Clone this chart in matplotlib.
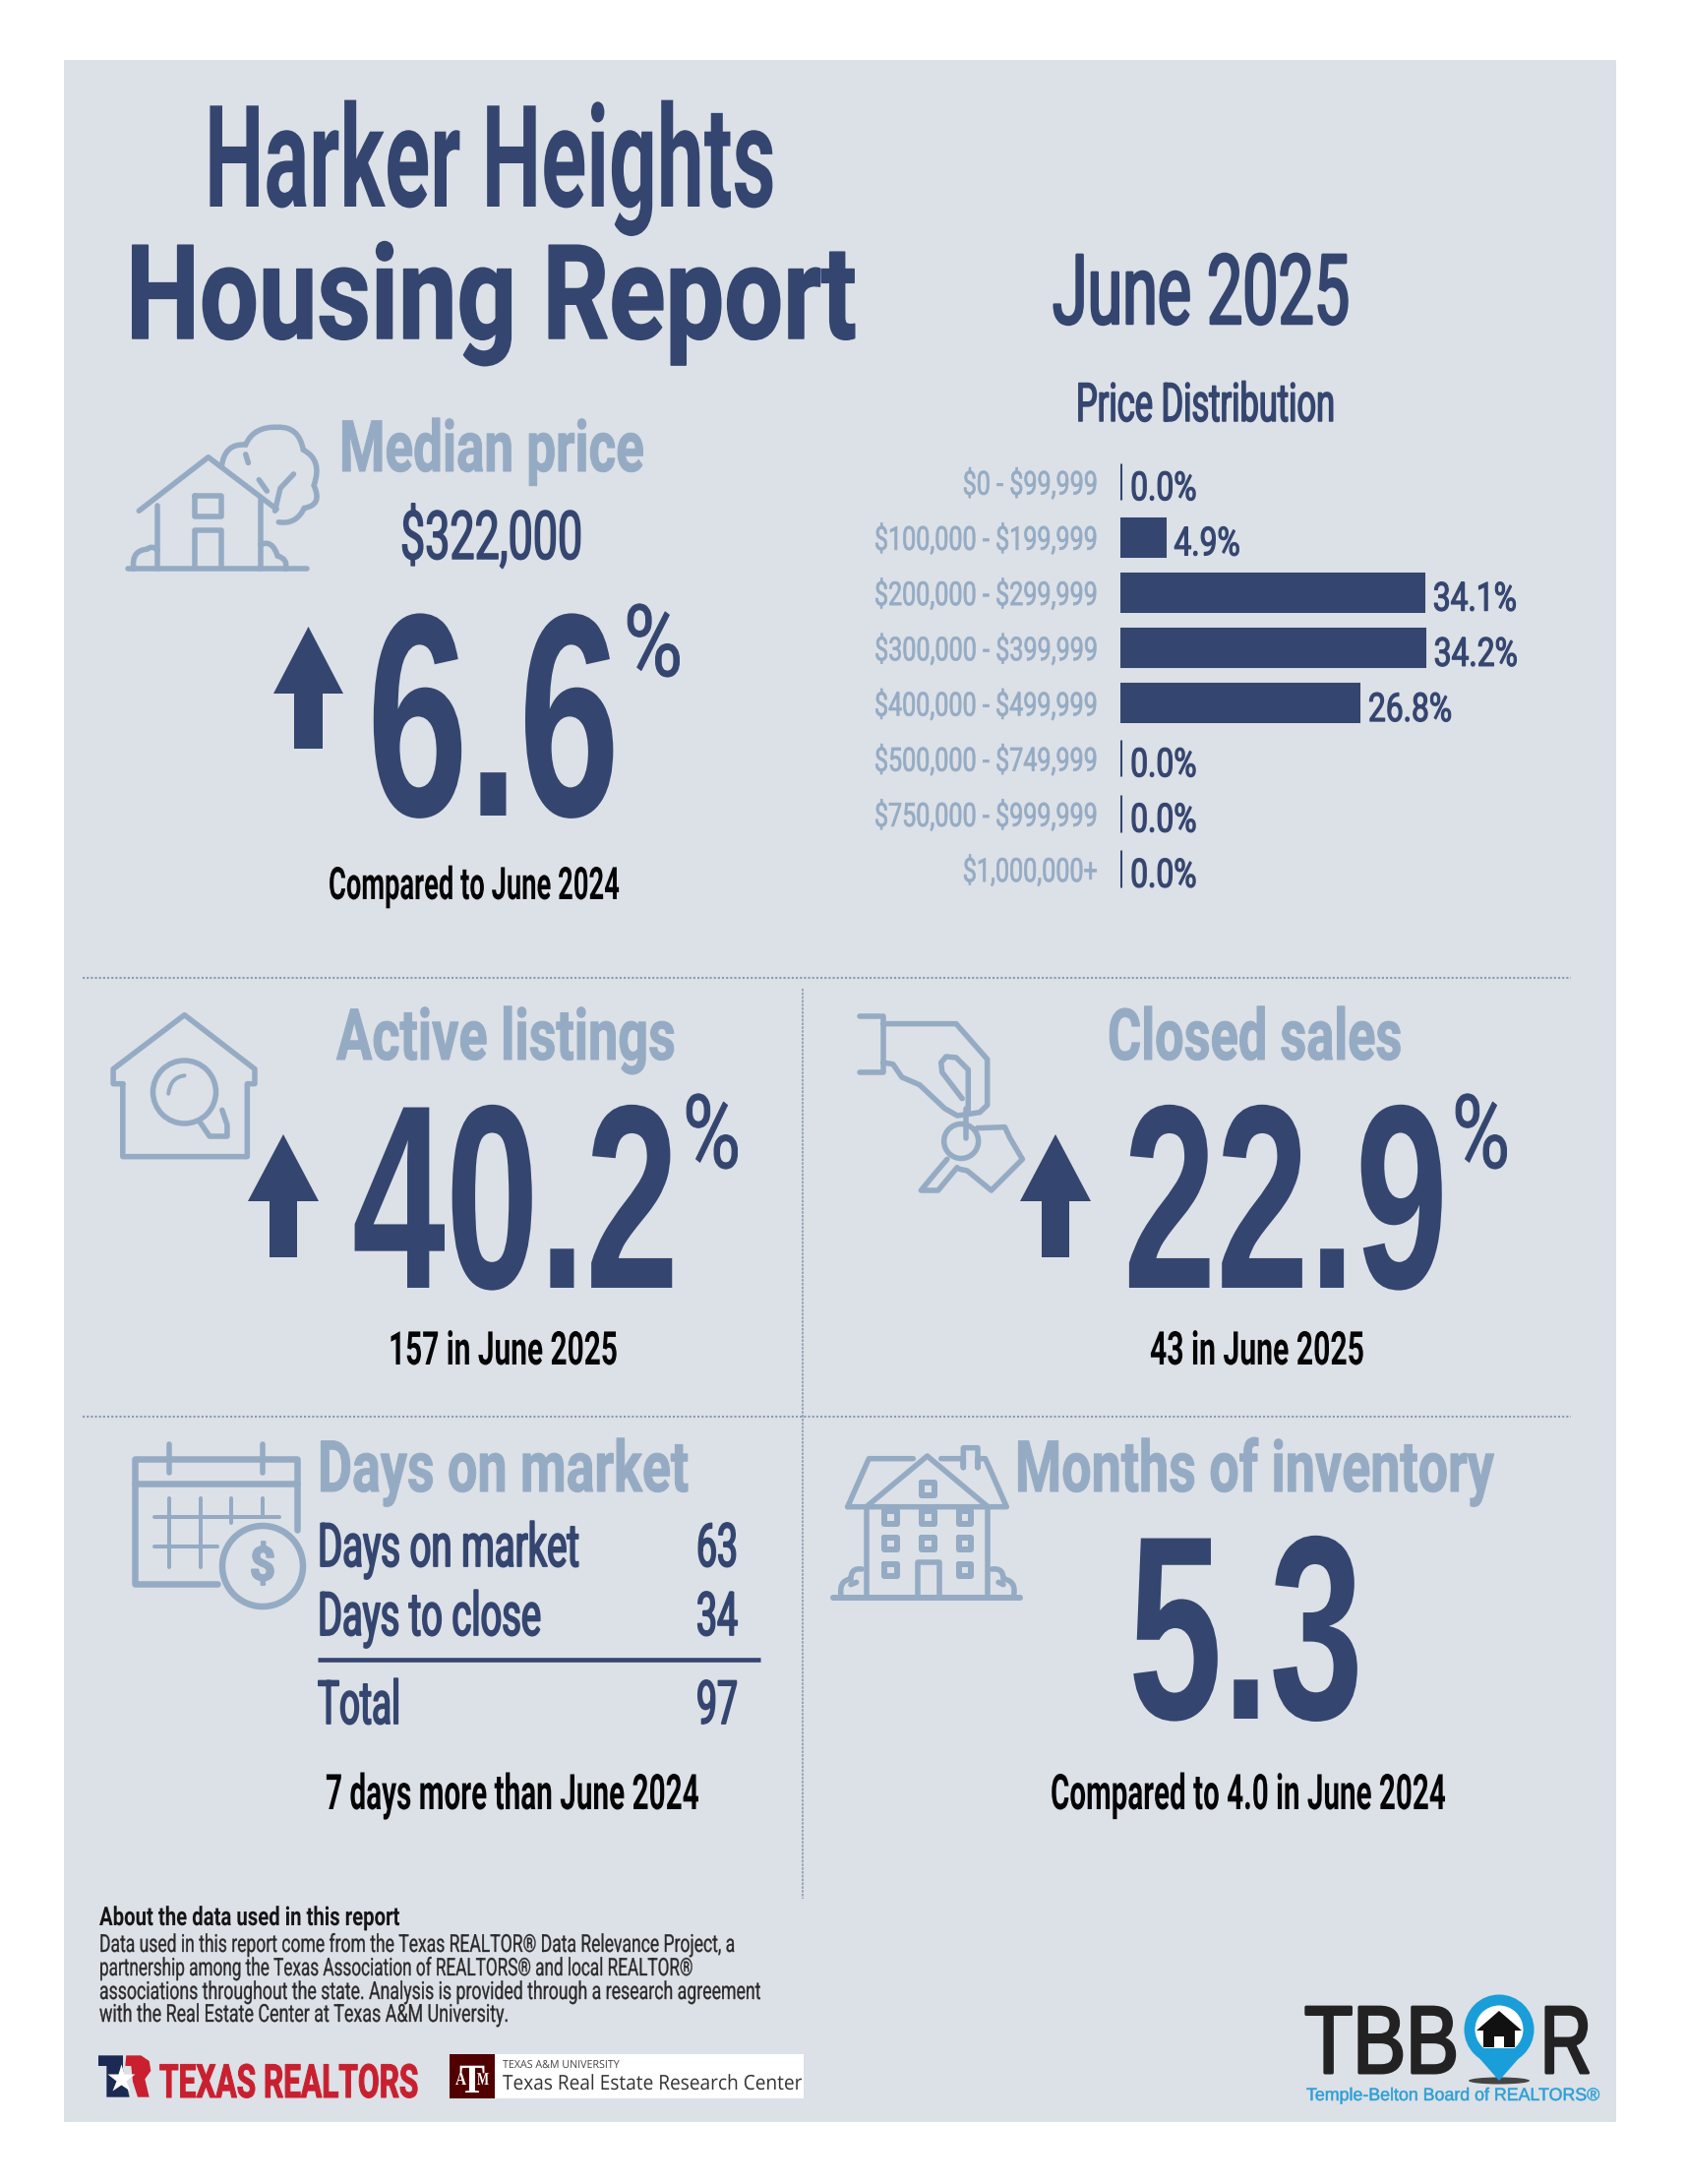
from matplotlib import pyplot as plt
from matplotlib.patches import Rectangle, Ellipse, Polygon, PathPatch
from matplotlib.path import Path
from matplotlib.patheffects import AbstractPathEffect
from matplotlib.transforms import Affine2D

# data
price_bins = ['$0 - $99,999', '$100,000 - $199,999', '$200,000 - $299,999', '$300,000 - $399,999',
              '$400,000 - $499,999', '$500,000 - $749,999', '$750,000 - $999,999', '$1,000,000+']
price_shares = [0.0, 4.9, 34.1, 34.2, 26.8, 0.0, 0.0, 0.0]
median_price = '$322,000'
median_change = 6.6
active_change = 40.2
active_count = 157
sales_change = 22.9
sales_count = 43
dom_rows = ['Days on market', 'Days to close', 'Total']
dom_days = [63, 34, 97]
months_inventory = 5.3
months_prior = 4.0
about_lines = ['Data used in this report come from the Texas REALTOR® Data Relevance Project, a',
               'partnership among the Texas Association of REALTORS® and local REALTOR®',
               'associations throughout the state. Analysis is provided through a research agreement',
               'with the Real Estate Center at Texas A&M University.']

NAVY = '#34466f'
LIGHT = '#94abc3'
PANEL = '#dce0e7'
DOTS = '#8a9bb0'
FONT = 'Roboto'
DIGITS = 'Liberation Sans'

plt.rcParams['text.parse_math'] = False  # the price labels hold dollar signs

fig = plt.figure(figsize=(17.15, 22.2), dpi=100, facecolor='white')
ax = fig.add_axes([0, 0, 1, 1])
ax.set_xlim(0, 1715)
ax.set_ylim(2220, 0)
ax.axis('off')
renderer = fig.canvas.get_renderer()


# squeezes drawn glyphs sideways, there is no condensed font to use here
class Squeeze(AbstractPathEffect):
    def __init__(self, x0, sx, fat=0, dy=0):
        super().__init__()
        self.x0 = x0
        self.sx = sx
        self.fat = fat
        self.dy = dy

    def draw_path(self, renderer, gc, tpath, affine, rgbFace=None):
        squeezed = affine + Affine2D().translate(-self.x0, 0).scale(self.sx, 1).translate(self.x0, -self.dy)
        gc0 = renderer.new_gc()
        gc0.copy_properties(gc)
        if self.fat:
            gc0.set_linewidth(self.fat * 0.72)
            gc0.set_foreground(rgbFace)
        renderer.draw_path(gc0, tpath, squeezed, rgbFace)
        gc0.restore()


def squeeze(t, sx=None, width=None, fat=0, dy=0):
    ext = t.get_window_extent(renderer)
    if sx is None:
        sx = width / ext.width
    ha = t.get_ha()
    x0 = ext.x0 if ha == 'left' else ext.x1 if ha == 'right' else (ext.x0 + ext.x1) / 2
    t.set_path_effects([Squeeze(x0, sx, fat, dy)])
    return sx


# x0, x1 are the ink edges in pixels, y the baseline, cap the capital height in pixels
def label(x0, x1, y, s, cap, color=NAVY, weight='bold', family=FONT, fat=0):
    t = ax.text(x0, y, s, fontsize=cap, color=color, fontweight=weight, family=family,
                ha='left', va='baseline', zorder=5)
    squeeze(t, width=x1 - x0, fat=fat)
    return t


def stroke(pts, lw=5.5, color=LIGHT, z=3):
    xs, ys = zip(*pts)
    ax.plot(xs, ys, color=color, lw=lw * 0.72, solid_capstyle='round', solid_joinstyle='round', zorder=z)


def curve(pts, lw=5.5, color=LIGHT):
    # first point, then control/end pairs
    codes = [Path.MOVETO] + [Path.CURVE3] * (len(pts) - 1)
    ax.add_patch(PathPatch(Path(pts, codes), fc='none', ec=color, lw=lw * 0.72, capstyle='round', zorder=3))


def ring(x, y, r, lw=5.5, color=LIGHT, fc='none'):
    ax.add_patch(Ellipse((x, y), 2 * r, 2 * r, fc=fc, ec=color, lw=lw * 0.72, zorder=3))


def up_arrow(x0, x1, shaft0, shaft1, tip, head, bottom):
    ax.add_patch(Polygon([((x0 + x1) / 2, tip), (x1, head), (shaft1, head), (shaft1, bottom),
                          (shaft0, bottom), (shaft0, head), (x0, head)], fc=NAVY, ec='none', zorder=4))


def zoomed(x0, y0, pts, fx=1.96, fy=3.0):
    return [(x0 + x / fx, y0 + y / fy) for x, y in pts]


def draw_panel():
    ax.add_patch(Rectangle((65, 61), 1578, 2096, fc=PANEL, ec='none', zorder=0))
    for y in (994, 1440):
        ax.plot([84, 1597], [y, y], color=DOTS, lw=1.5, ls=(0, (1, 1)), zorder=1)
    ax.plot([816, 816], [1005, 1930], color=DOTS, lw=1.2, ls=(0, (1.5, 0.8)), zorder=1)


def draw_header():
    label(208, 789, 210, 'Harker Heights', 104)
    label(128, 871, 344, 'Housing Report', 96, fat=1.5)
    label(1070, 1372, 329, 'June 2025', 71, fat=2.5, weight='normal')
    label(1094, 1357, 428, 'Price Distribution', 39, fat=1.5, weight='normal')


def draw_median():
    label(345, 655, 479, 'Median price', 52, color=LIGHT, fat=1)
    label(407, 592, 568, median_price, 49, weight='normal', fat=1.5)
    label(373, 630, 829, f'{median_change:.1f}', 212, family=DIGITS)
    label(634, 694, 687, '%', 73, weight='normal', fat=1)
    up_arrow(278, 349, 299, 328, 637, 705, 761)
    label(334, 630, 914, 'Compared to June 2024', 33, color='#050505')
    # house with tree
    z = lambda pts: zoomed(60, 60, pts, 1.845, 1.742)
    stroke(z([(130, 903), (465, 903)]))
    stroke(z([(185, 790), (185, 903)]))
    stroke(z([(378, 780), (378, 903)]))
    stroke(z([(150, 800), (280, 705), (408, 797)]))
    stroke(z([(255, 773), (305, 773), (305, 810), (255, 810), (255, 773)]))
    stroke(z([(255, 900), (255, 835), (305, 835), (305, 900)]))
    curve(z([(305, 722), (310, 680), (350, 683), (365, 650), (410, 652), (450, 650), (458, 692),
             (495, 710), (478, 755), (495, 790), (460, 795), (445, 825), (412, 820)]))
    stroke(z([(405, 800), (415, 760), (440, 735)]))
    stroke(z([(375, 745), (390, 765)]))
    stroke(z([(350, 700), (355, 715)]))
    curve(z([(140, 903), (135, 870), (165, 868), (175, 860), (185, 870)]))
    curve(z([(378, 860), (400, 850), (410, 880), (430, 885), (425, 903)]))


def draw_prices():
    # real axes for the bars: 9.02 px per percent, rows 56.2 px apart
    left, top, wide, high = 1139.5, 461.4, 500, 449.6
    bx = fig.add_axes([left / 1715, 1 - (top + high) / 2220, wide / 1715, high / 2220])
    bx.patch.set_alpha(0)
    rows = list(range(len(price_bins)))
    bx.barh(rows, price_shares, height=0.67, color=NAVY, edgecolor=NAVY, linewidth=2.2)
    bx.set_xlim(0, wide / 9.02)
    bx.set_ylim(len(rows) - 0.5, -0.5)
    for s in bx.spines.values():
        s.set_visible(False)
    bx.set_xticks([])
    bx.set_yticks(rows, price_bins, fontsize=24, color=LIGHT, family=FONT, va='center')
    bx.tick_params(axis='y', length=0, pad=17)
    fig.canvas.draw()
    sx = 227 / bx.get_yticklabels()[1].get_window_extent(renderer).width
    for t in bx.get_yticklabels():
        squeeze(t, sx=sx, fat=0.7, dy=4)
    vals = []
    for i, v in enumerate(price_shares):
        vals.append(bx.annotate(f'{v:.1f}%', (v, i), xytext=(7, -13.5), textcoords='offset points',
                                fontsize=29, color=NAVY, family=FONT, ha='left', va='baseline'))
    sx = 85 / vals[2].get_window_extent(renderer).width
    for t in vals:
        squeeze(t, sx=sx, fat=1.2)


def draw_active():
    label(342, 687, 1077, 'Active listings', 52, color=LIGHT, fat=1)
    label(358, 690, 1309, f'{active_change:.1f}', 192, family=DIGITS)
    label(694, 753, 1187, '%', 75, weight='normal', fat=1)
    up_arrow(252, 324, 274, 302, 1153, 1221, 1278)
    label(395, 628, 1387, f'{active_count} in June 2025', 34, color='#050505')
    ring(187.5, 1110, 32)
    stroke(zoomed(60, 980, [(127, 365), (108, 365), (108, 320), (250, 155), (390, 320), (390, 365),
                            (375, 365), (375, 587), (127, 587), (127, 365)]))
    stroke(zoomed(60, 980, [(280, 480), (300, 525), (335, 525), (335, 490), (325, 445)]))
    curve(zoomed(60, 980, [(218, 395), (222, 345), (250, 340)]), lw=4)


def draw_sales():
    label(1126, 1425, 1077, 'Closed sales', 52, color=LIGHT, fat=1)
    label(1142, 1472, 1309, f'{sales_change:.1f}', 192, family=DIGITS)
    label(1476, 1535, 1187, '%', 75, weight='normal', fat=1)
    up_arrow(1037, 1109, 1059, 1087, 1153, 1221, 1278)
    label(1169, 1387, 1387, f'{sales_count} in June 2025', 34, color='#050505')
    z = lambda pts: zoomed(820, 980, pts)
    stroke(z([(105, 160), (152, 160), (152, 330), (105, 330)]))
    stroke(z([(152, 182), (298, 182), (360, 290), (360, 430), (345, 452), (320, 458)]))
    stroke(z([(152, 300), (172, 305), (190, 345), (225, 368), (275, 440), (300, 462), (320, 458)]))
    stroke(z([(322, 450), (322, 322), (298, 285), (278, 282), (268, 300), (270, 330), (310, 410)]))
    stroke(z([(318, 440), (318, 530)]))
    ring(820 + 308 / 1.96, 980 + 540 / 3, 17.5)
    stroke(z([(280, 595), (255, 640), (228, 690), (262, 690), (300, 620)]))
    stroke(z([(340, 500), (395, 497), (405, 530), (430, 595), (368, 690), (320, 630), (305, 625)]))


def draw_days():
    label(323, 700, 1516, 'Days on market', 52, color=LIGHT, fat=1)
    for name, days, y, x1 in zip(dom_rows, dom_days, (1592, 1662, 1752), (589, 550, 407)):
        label(323, x1, y, name, 44, weight='normal', fat=1.8)
        label(708, 750, y, str(days), 44, weight='normal', fat=1.8)
    ax.plot([323, 773], [1687, 1687], color=NAVY, lw=3.3, solid_capstyle='butt', zorder=4)
    label(331, 711, 1839, f'{dom_days[2] - 90} days more than June 2024', 36, color='#050505')
    z = lambda pts: zoomed(60, 1440, pts)
    stroke(z([(315, 510), (150, 510), (150, 130), (475, 130), (475, 345)]), lw=6.5)
    stroke(z([(150, 205), (475, 205)]), lw=6.5)
    stroke(z([(220, 85), (220, 170)]))
    stroke(z([(405, 85), (405, 170)]))
    stroke(z([(190, 305), (440, 305)]), lw=4)
    stroke(z([(190, 395), (315, 395)]), lw=4)
    for x, y1 in zip((220, 283, 343, 405), (460, 460, 325, 305)):
        stroke(z([(x, 250), (x, y1)]), lw=4)
    ring(267, 1592, 41, lw=6.5)
    label(254, 280, 1606, '$', 34, color=LIGHT, fat=2)


def draw_months():
    label(1032, 1519, 1516, 'Months of inventory', 52, color=LIGHT, fat=1)
    label(1147, 1386, 1747, f'{months_inventory:.1f}', 192, family=DIGITS)
    label(1068, 1470, 1839, f'Compared to {months_prior:.1f} in June 2024', 36, color='#050505')
    z = lambda pts: zoomed(840, 1460, pts, 3, 3)
    stroke(z([(20, 493), (590, 493)]), lw=6)
    stroke(z([(122, 222), (122, 493)]))
    stroke(z([(493, 222), (493, 493)]))
    stroke(z([(65, 215), (550, 215), (485, 68), (462, 68), (462, 95), (462, 35), (418, 35), (418, 95), (418, 68), (350, 68)]))
    stroke(z([(65, 215), (130, 68), (265, 68)]))
    stroke(z([(122, 215), (308, 60), (493, 215)]))
    windows = [(197, 248), (310, 160), (310, 248), (423, 248), (197, 327), (310, 327), (423, 327), (197, 408), (423, 408)]
    for wx, wy in windows:
        stroke(z([(wx - 19, wy - 19), (wx + 19, wy - 19), (wx + 19, wy + 19), (wx - 19, wy + 19), (wx - 19, wy - 19)]), lw=6)
    stroke(z([(278, 485), (278, 385), (345, 385), (345, 485)]))
    curve(z([(45, 485), (38, 440), (75, 435), (75, 400), (108, 405)]))
    curve(z([(505, 405), (540, 400), (540, 435), (580, 440), (572, 485)]))
    stroke(z([(92, 445), (75, 452)]))
    stroke(z([(525, 445), (540, 452)]))


def draw_footer():
    label(101, 407, 1957, 'About the data used in this report', 19, color='#151515')
    for s, x1, y in zip(about_lines, (747, 704, 773, 517), (1984, 2008, 2032, 2055)):
        label(101, x1, y, s, 18, color='#2a2a2a', weight='normal', fat=0.3)
    # Texas Realtors mark
    z = lambda pts: zoomed(90, 2080, pts, 3, 3)
    ax.add_patch(Polygon(z([(30, 28), (105, 28), (105, 70), (125, 155), (55, 155), (55, 60), (30, 60)]), fc='#1b2a52', ec='none', zorder=3))
    ax.add_patch(Polygon(z([(115, 28), (160, 28), (185, 45), (190, 75), (172, 100), (185, 155), (150, 155), (135, 108),
                            (130, 60), (112, 60)]), fc='#c8202f', ec='none', zorder=3))
    ax.plot([123], [2113], marker='*', ms=21, color='white', mec='none', zorder=4)
    label(162, 426, 2132, 'TEXAS REALTORS', 34, color='#c8202f', fat=1)
    # Texas A&M block
    ax.add_patch(Rectangle((457, 2088), 360, 45, fc='white', ec='none', zorder=2))
    ax.add_patch(Rectangle((457, 2088), 46, 45, fc='#500000', ec='none', zorder=3))
    label(463, 474, 2119, 'A', 13, color='white', family='Liberation Serif')
    label(467, 493, 2127, 'T', 30, color='white', family='Liberation Serif')
    label(485, 497, 2119, 'M', 13, color='white', family='Liberation Serif')
    label(511, 630, 2102, 'TEXAS A&M UNIVERSITY', 8, color='#444444', weight='normal', family='Open Sans')
    label(511, 816, 2124, 'Texas Real Estate Research Center', 15, color='#333333', weight='normal', family='Open Sans')
    # TBBOR logo
    label(1326, 1483, 2107, 'TBB', 70, color='#222222', weight='normal', fat=3, family='Liberation Sans')
    label(1566, 1618, 2107, 'R', 70, color='#222222', weight='normal', fat=3, family='Liberation Sans')
    ax.add_patch(Ellipse((1524, 2115), 62, 7, fc='#444444', ec='none', zorder=3))
    ax.add_patch(Polygon([(1495, 2082), (1553, 2082), (1524, 2115)], fc='#1a9ed9', ec='none', zorder=4))
    ring(1524, 2063, 30, lw=11, color='#1a9ed9', fc='white')
    ax.add_patch(Polygon([(1524, 2044), (1547, 2064), (1540, 2064), (1540, 2081), (1529, 2081), (1529, 2070),
                          (1519, 2070), (1519, 2081), (1508, 2081), (1508, 2064), (1501, 2064)], fc='#111111', ec='none', zorder=5))
    label(1328, 1625, 2135, 'Temple-Belton Board of REALTORS®', 13, color='#2a9fd6', weight='normal', fat=0.5, family='Liberation Sans')


draw_panel()
draw_header()
draw_median()
draw_prices()
draw_active()
draw_sales()
draw_days()
draw_months()
draw_footer()
fig.savefig('out.png', dpi=100, facecolor='white')
